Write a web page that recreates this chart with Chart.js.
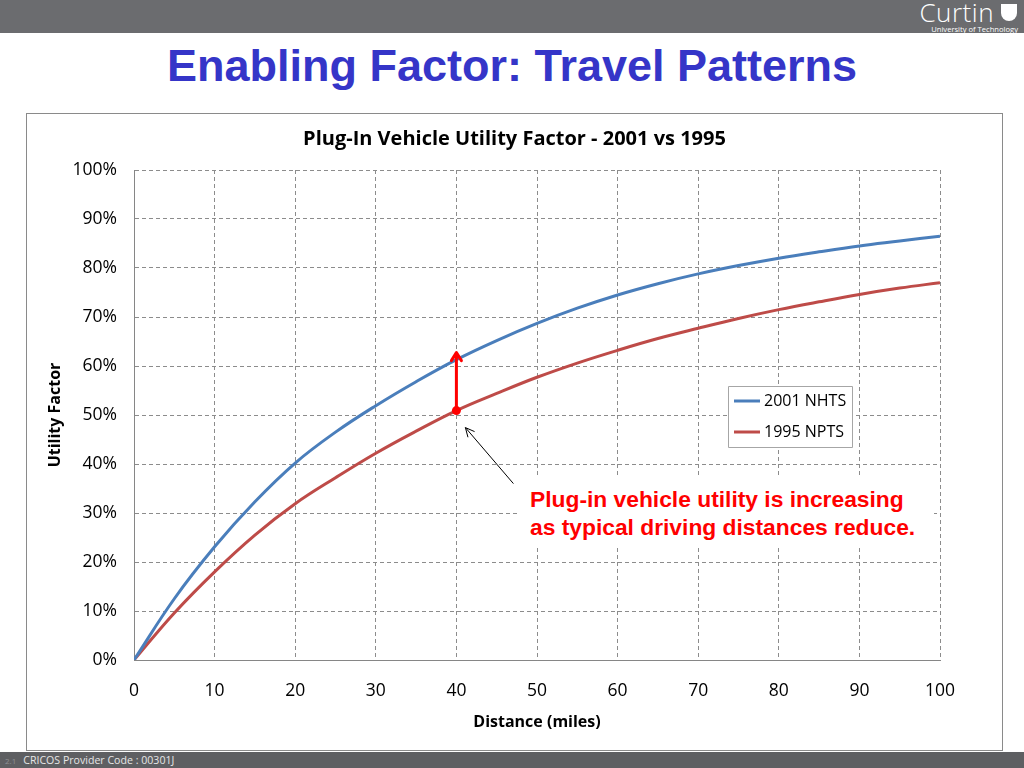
<!DOCTYPE html>
<html>
<head>
<meta charset="utf-8">
<script src="https://cdn.jsdelivr.net/npm/chart.js@4.4.0/dist/chart.umd.min.js"></script>
<style>
  html, body { margin: 0; padding: 0; background: #fff; }
  body { width: 1024px; height: 768px; position: relative; overflow: hidden; font-family: "Liberation Sans", Arial, sans-serif; }
  #topbar { position: absolute; left: 0; top: 0; width: 1024px; height: 33px; background: #6b6c6f; }
  #logo { position: absolute; right: 6px; top: 0; color: #fff; text-align: right; }
  #logo .big { font-family: "Open Sans", sans-serif; font-weight: 300; font-size: 26px; line-height: 25px; letter-spacing: 0.5px; margin-right: 24px; }
  #logo .small { font-family: "Open Sans", sans-serif; font-size: 7.6px; line-height: 8px; margin-top: 0px; }
  #shield { position: absolute; right: 7px; top: 4px; width: 16px; height: 17px; background: #fff; border-radius: 0 0 8px 8px; }
  #title { position: absolute; left: 0; top: 39px; width: 1024px; text-align: center; color: #3535c8; font-weight: bold; font-size: 45px; line-height: 54px; }
  #box { position: absolute; left: 26px; top: 113px; width: 975px; height: 636px; border: 1px solid #8a8a8a; }
  #note { position: absolute; left: 520px; top: 478px; width: 404px; padding: 7px 0 6px 10px; background: #fff; color: #ff0000; font-weight: bold; font-size: 22.8px; line-height: 28px; }
  #bottombar { position: absolute; left: 0; top: 752px; width: 1024px; height: 16px; background: #5e5f62; color: #e6e6e6; font-family: "Open Sans", sans-serif; font-size: 10.6px; line-height: 16px; }
  #bottombar .pg { color: #8f9094; font-size: 8px; margin: 0 7px 0 5px; }
</style>
</head>
<body>
<div id="topbar">
  <div id="logo"><div class="big">Curtin</div><div class="small">University of Technology</div></div>
  <div id="shield"></div>
</div>
<div id="title">Enabling Factor: Travel Patterns</div>
<div id="box"><canvas id="utilityChart" width="975" height="636"></canvas></div>
<div id="note">Plug-in vehicle utility is increasing<br>as typical driving distances reduce.</div>
<div id="bottombar"><span class="pg">2.1</span>CRICOS Provider Code : 00301J</div>

<script>
// distances (miles) and utility factor (%)
const distances = [0, 5, 10, 15, 20, 25, 30, 35, 40, 45, 50, 55, 60, 65, 70, 75, 80, 85, 90, 95, 100];
const nhts2001 = [0, 12.5, 23.1, 32.3, 40.2, 46.5, 51.9, 56.8, 61.3, 65.2, 68.7, 71.8, 74.5, 76.8, 78.8, 80.5, 82.0, 83.3, 84.5, 85.5, 86.5];
const npts1995 = [0, 9.6, 18.0, 25.5, 31.9, 37.2, 42.2, 46.7, 50.9, 54.4, 57.7, 60.6, 63.2, 65.6, 67.7, 69.7, 71.5, 73.1, 74.6, 75.9, 77.0];
const xTicks = [0, 10, 20, 30, 40, 50, 60, 70, 80, 90, 100];
const yTicks = [0, 10, 20, 30, 40, 50, 60, 70, 80, 90, 100];
const arrowAt = 40;

const tickFont = { family: "'Open Sans', sans-serif", size: 17.5 };
const boldFont = { family: "'Open Sans', sans-serif", size: 16, weight: "bold" };

function toPoints(ys) {
    return distances.map((d, i) => ({ x: d, y: ys[i] }));
}

// legend box + red comparison arrow + black pointer
const overlay = {
    id: "overlay",
    afterDatasetsDraw(chart) {
        const ctx = chart.ctx;
        const xs = chart.scales.x, ys = chart.scales.y;
        const i = distances.indexOf(arrowAt);
        const ax = xs.getPixelForValue(arrowAt);
        const yLow = ys.getPixelForValue(npts1995[i]);
        const yHigh = ys.getPixelForValue(nhts2001[i]) - 7;

        ctx.save();
        // red arrow
        ctx.strokeStyle = "#ff0000";
        ctx.fillStyle = "#ff0000";
        ctx.lineWidth = 3;
        ctx.lineCap = "round";
        ctx.lineJoin = "round";
        ctx.beginPath();
        ctx.moveTo(ax, yLow);
        ctx.lineTo(ax, yHigh);
        ctx.moveTo(ax - 5, yHigh + 8);
        ctx.lineTo(ax, yHigh);
        ctx.lineTo(ax + 5, yHigh + 8);
        ctx.stroke();
        ctx.beginPath();
        ctx.arc(ax, yLow, 4.5, 0, Math.PI * 2);
        ctx.fill();

        // black pointer
        const hx = ax + 9, hy = yLow + 17;
        const tx = hx + 48, ty = hy + 56;
        ctx.strokeStyle = "#000";
        ctx.lineWidth = 1;
        ctx.lineCap = "butt";
        ctx.beginPath();
        ctx.moveTo(tx, ty);
        ctx.lineTo(hx, hy);
        const ang = Math.atan2(ty - hy, tx - hx);
        ctx.moveTo(hx + 10 * Math.cos(ang - 0.45), hy + 10 * Math.sin(ang - 0.45));
        ctx.lineTo(hx, hy);
        ctx.lineTo(hx + 10 * Math.cos(ang + 0.45), hy + 10 * Math.sin(ang + 0.45));
        ctx.stroke();

        // legend
        const lx = 701, ly = 272, lw = 124, lh = 61;
        ctx.fillStyle = "#fff";
        ctx.fillRect(lx, ly, lw, lh);
        ctx.strokeStyle = "#a6a6a6";
        ctx.lineWidth = 1;
        ctx.strokeRect(lx + 0.5, ly + 0.5, lw, lh);
        ctx.font = "16px 'Open Sans', sans-serif";
        ctx.textBaseline = "middle";
        chart.data.datasets.forEach((ds, k) => {
            const yy = ly + 15 + k * 31;
            ctx.strokeStyle = ds.borderColor;
            ctx.lineWidth = 3;
            ctx.beginPath();
            ctx.moveTo(lx + 6, yy);
            ctx.lineTo(lx + 32, yy);
            ctx.stroke();
            ctx.fillStyle = "#000";
            ctx.fillText(ds.label, lx + 36, yy);
        });
        ctx.restore();
    }
};

const ctx = document.getElementById("utilityChart").getContext("2d");
const utilityChart = new Chart(ctx, {
    type: "line",
    data: {
        datasets: [
            {
                label: "2001 NHTS",
                data: toPoints(nhts2001),
                borderColor: "#4a7ebb",
                borderWidth: 3,
                pointRadius: 0,
                tension: 0.4,
            },
            {
                label: "1995 NPTS",
                data: toPoints(npts1995),
                borderColor: "#be4b48",
                borderWidth: 3,
                pointRadius: 0,
                tension: 0.4,
            },
        ],
    },
    options: {
        responsive: false,
        animation: false,
        events: [],
        plugins: {
            legend: { display: false },
            tooltip: { enabled: false },
            title: {
                display: true,
                text: "Plug-In Vehicle Utility Factor - 2001 vs 1995",
                color: "#000",
                font: { family: "'Open Sans', sans-serif", size: 20, weight: "bold" },
                padding: { top: 13, bottom: 19 },
            },
        },
        scales: {
            x: {
                type: "linear",
                min: 0,
                max: 100,
                afterBuildTicks: (s) => { s.ticks = xTicks.map(v => ({ value: v })); },
                afterFit: (s) => { s.height = 90; },
                ticks: { color: "#000", font: tickFont, padding: 21, maxRotation: 0 },
                grid: { color: "#8c8c8c", drawTicks: false },
                border: { color: "#868686", width: 1, dash: [4, 3] },
                title: { display: true, text: "Distance (miles)", color: "#000", font: boldFont, padding: { bottom: 18 } },
            },
            y: {
                min: 0,
                max: 100,
                afterBuildTicks: (s) => { s.ticks = yTicks.map(v => ({ value: v })); },
                afterFit: (s) => { s.width = 107; },
                ticks: { color: "#000", font: tickFont, padding: 17, callback: (v) => v + "%" },
                grid: { color: "#8c8c8c", drawTicks: false },
                border: { color: "#868686", width: 1, dash: [4, 3] },
                title: { display: true, text: "Utility Factor", color: "#000", font: boldFont, padding: { top: 19 } },
            },
            yRight: {
                position: "right",
                afterFit: (s) => { s.width = 62; },
                ticks: { display: false },
                grid: { display: false },
                border: { display: false },
            },
        },
    },
    plugins: [overlay],
});
</script>
</body>
</html>
